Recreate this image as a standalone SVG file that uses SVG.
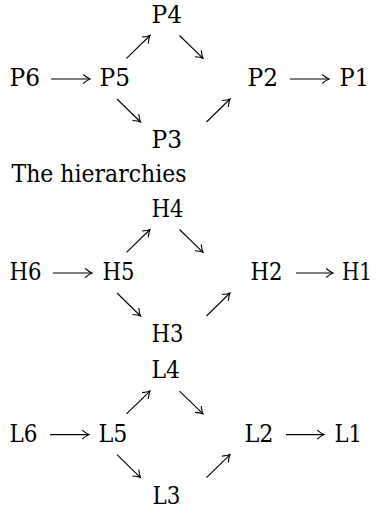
<svg xmlns="http://www.w3.org/2000/svg" width="376" height="512" viewBox="0 0 376 512">
<style>
.t text{font-family:'DejaVu Serif',serif;font-size:23.5px;fill:#000;}
.c line{stroke:#000;stroke-width:1.1;fill:none;marker-end:url(#ah);}
</style>
<defs>
<marker id="ah" viewBox="-8 -6 10 12" refX="0" refY="0" markerWidth="10" markerHeight="12" markerUnits="userSpaceOnUse" orient="auto">
<path d="M-6.8,-4.5 Q-2.6,-1 0,0 Q-2.6,1 -6.8,4.5" fill="none" stroke="#000" stroke-width="1.1"/>
</marker>
</defs>
<rect width="376" height="512" fill="#fff"/>

<g class="t" font-family="DejaVu Serif, serif">
<!-- P hierarchy -->
<g id="P6"><text x="9.5" y="86" textLength="30.5" lengthAdjust="spacingAndGlyphs">P6</text></g>
<g id="P5"><text x="99.5" y="86" textLength="30.5" lengthAdjust="spacingAndGlyphs">P5</text></g>
<g id="P4"><text x="151.5" y="22.7" textLength="30.5" lengthAdjust="spacingAndGlyphs">P4</text></g>
<g id="P3"><text x="151.5" y="148" textLength="30.5" lengthAdjust="spacingAndGlyphs">P3</text></g>
<g id="P2"><text x="247.5" y="86" textLength="30.5" lengthAdjust="spacingAndGlyphs">P2</text></g>
<g id="P1"><text x="339.5" y="86" textLength="29.5" lengthAdjust="spacingAndGlyphs">P1</text></g>

<g id="title"><text x="11.5" y="182" textLength="175" lengthAdjust="spacingAndGlyphs">The hierarchies</text></g>

<!-- H hierarchy -->
<g id="H6"><text x="9.5" y="280" textLength="32" lengthAdjust="spacingAndGlyphs">H6</text></g>
<g id="H5"><text x="102.5" y="280" textLength="32" lengthAdjust="spacingAndGlyphs">H5</text></g>
<g id="H4"><text x="151.5" y="216.7" textLength="32" lengthAdjust="spacingAndGlyphs">H4</text></g>
<g id="H3"><text x="151.5" y="342" textLength="32" lengthAdjust="spacingAndGlyphs">H3</text></g>
<g id="H2"><text x="250.5" y="280" textLength="32" lengthAdjust="spacingAndGlyphs">H2</text></g>
<g id="H1"><text x="342" y="280" textLength="30" lengthAdjust="spacingAndGlyphs">H1</text></g>

<!-- L hierarchy -->
<g id="L6"><text x="9.5" y="441.6" textLength="28" lengthAdjust="spacingAndGlyphs">L6</text></g>
<g id="L5"><text x="98.5" y="441.6" textLength="29" lengthAdjust="spacingAndGlyphs">L5</text></g>
<g id="L4"><text x="151.5" y="378.3" textLength="28.5" lengthAdjust="spacingAndGlyphs">L4</text></g>
<g id="L3"><text x="152.5" y="504" textLength="28" lengthAdjust="spacingAndGlyphs">L3</text></g>
<g id="L2"><text x="244.5" y="441.6" textLength="29" lengthAdjust="spacingAndGlyphs">L2</text></g>
<g id="L1"><text x="334.5" y="441.6" textLength="27.5" lengthAdjust="spacingAndGlyphs">L1</text></g>
</g>

<g id="connectors" class="c">
<!-- P -->
<line x1="51" y1="79" x2="90" y2="79"/>
<line x1="290" y1="79" x2="329" y2="79"/>
<line x1="126.5" y1="58.3" x2="150" y2="35.5"/>
<line x1="179.5" y1="35.5" x2="203" y2="58.3"/>
<line x1="117" y1="99" x2="140.5" y2="122"/>
<line x1="206.5" y1="122" x2="230" y2="99"/>
<!-- H -->
<line x1="53" y1="273" x2="92" y2="273"/>
<line x1="296" y1="273" x2="333" y2="273"/>
<line x1="126.5" y1="252.3" x2="150" y2="229.5"/>
<line x1="179.5" y1="229.5" x2="203" y2="252.3"/>
<line x1="117" y1="293" x2="140.5" y2="316"/>
<line x1="206.5" y1="316" x2="230" y2="293"/>
<!-- L -->
<line x1="50" y1="434.6" x2="89" y2="434.6"/>
<line x1="286" y1="434.6" x2="324" y2="434.6"/>
<line x1="126.5" y1="413.9" x2="150" y2="391.1"/>
<line x1="179.5" y1="391.1" x2="203" y2="413.9"/>
<line x1="117" y1="454.6" x2="140.5" y2="477.6"/>
<line x1="206.5" y1="477.6" x2="230" y2="454.6"/>
</g>
</svg>
